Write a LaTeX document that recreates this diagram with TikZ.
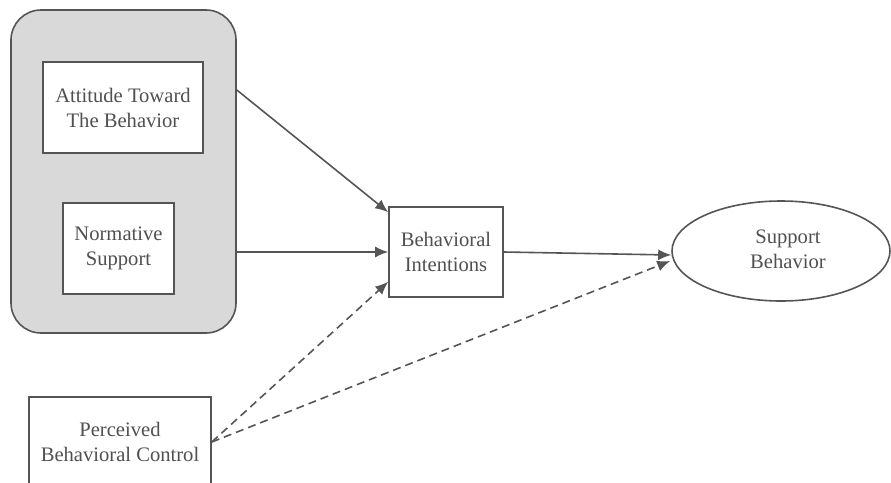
\documentclass[tikz,border=0pt]{standalone}
\usepackage{fontspec}
\setmainfont{Liberation Serif}
\usetikzlibrary{arrows.meta,calc,shapes.geometric}
\definecolor{ln}{HTML}{555555}
\definecolor{txt}{HTML}{505050}
\definecolor{grp}{HTML}{D9D9D9}
\tikzset{
  lbl/.style={text=txt,font=\fontsize{10.3}{12.5}\selectfont,align=center,inner sep=0pt},
  boxnode/.style={lbl,draw=ln,line width=0.8pt,fill=white,rectangle},
  arr/.style={draw=ln,line width=0.8pt,-{Latex[length=6.5pt,width=5.5pt]}},
  darr/.style={arr,dash pattern=on 4pt off 2.5pt},
}
\begin{document}
\begin{tikzpicture}[x=0.5pt,y=-0.5pt]
\useasboundingbox (0,0) rectangle (891,483);
\clip (0,0) rectangle (891,483);
\node[draw=ln,line width=0.8pt,fill=grp,rounded corners=15pt,minimum width=112.5pt,minimum height=161.5pt,inner sep=0pt] (grp) at (123.5,171.5) {};
\node[boxnode,minimum width=80pt,minimum height=45.5pt] (att) at (123,107.5) {Attitude Toward\\The Behavior};
\node[boxnode,minimum width=55.5pt,minimum height=45.5pt] (norm) at (118.5,248.5) {Normative\\Support};
\node[boxnode,minimum width=57pt,minimum height=45pt] (bi) at (446,252) {Behavioral\\Intentions};
\node[lbl,draw=ln,line width=0.8pt,ellipse,minimum width=109pt,minimum height=50pt] (sb) at (781,251) {};
\node[lbl] (sbt) at (788,249) {Support\\Behavior};
\node[boxnode,minimum width=91pt,minimum height=45pt] (pbc) at (120,442) {Perceived\\Behavioral Control};
\draw[arr] (grp.east |- 0,90) -- ($(bi.north west)+(0,6)$);
\draw[arr] (grp.east |- bi.west) -- (bi.west);
\draw[arr] (bi.east) -- ($(sb.west)+(0,4)$);
\draw[darr] (pbc.east) -- ($(bi.south west)+(0,-16)$);
\draw[darr] (pbc.east) -- ($(sb.west)+(-1,10)$);
\end{tikzpicture}
\end{document}
